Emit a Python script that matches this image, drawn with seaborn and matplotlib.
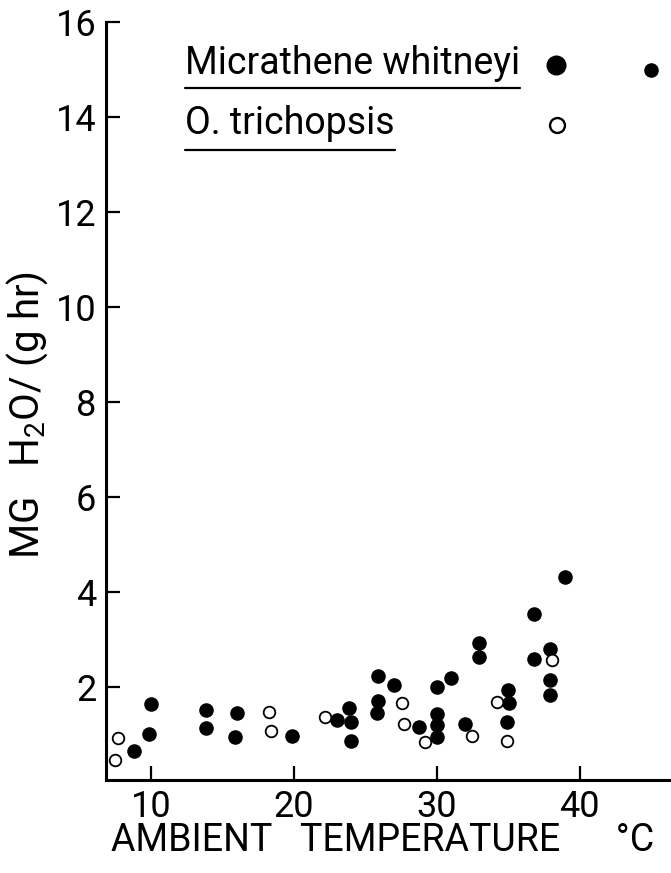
import numpy as np
import pandas as pd
import matplotlib
matplotlib.use("Agg")
import matplotlib.pyplot as plt
import seaborn as sns

# Micrathene whitneyi (filled circles)
mw_temp = [8.8, 10.0, 9.9, 13.9, 13.9, 16.0, 15.9, 19.9, 23.0, 23.9, 24.0, 24.0,
           25.9, 25.9, 25.8, 27.0, 28.8, 30.0, 30.0, 30.0, 30.0, 31.0, 32.0,
           33.0, 33.0, 35.0, 35.1, 34.9, 36.8, 36.8, 37.9, 37.9, 37.9, 39.0, 45.0]
mw_rate = [0.65, 1.65, 1.01, 1.51, 1.13, 1.45, 0.94, 0.97, 1.30, 1.56, 1.26, 0.87,
           2.24, 1.70, 1.45, 2.04, 1.16, 2.00, 1.44, 1.20, 0.95, 2.19, 1.22,
           2.92, 2.63, 1.93, 1.66, 1.27, 3.54, 2.59, 2.79, 2.15, 1.83, 4.32, 14.98]

# O. trichopsis (open circles)
ot_temp = [7.5, 7.7, 18.3, 18.4, 22.2, 27.6, 27.7, 29.2, 32.5, 34.2, 34.9, 38.1]
ot_rate = [0.46, 0.93, 1.48, 1.08, 1.37, 1.66, 1.22, 0.84, 0.96, 1.68, 0.87, 2.57]

x_ticks = [10, 20, 30, 40]
y_ticks = [2, 4, 6, 8, 10, 12, 14, 16]

mw = pd.DataFrame({"temp": mw_temp, "rate": mw_rate})
ot = pd.DataFrame({"temp": ot_temp, "rate": ot_rate})

sns.set_style("ticks")
plt.rcParams["font.family"] = ["Roboto", "DejaVu Sans"]
plt.rcParams["mathtext.default"] = "regular"
plt.rcParams["text.color"] = "black"
plt.rcParams["axes.labelcolor"] = "black"

fig = plt.figure(figsize=(6.71, 8.73), dpi=100)
ax = fig.add_axes([0.158, 0.107, 0.842, 0.868])

sns.scatterplot(data=mw, x="temp", y="rate", ax=ax, color="black", s=110,
                edgecolor="black", linewidth=0, zorder=3)
sns.scatterplot(data=ot, x="temp", y="rate", ax=ax, color="white", s=70,
                edgecolor="black", linewidth=1.3, zorder=4)

ax.set_xlim(6.87, 46.4)
ax.set_ylim(0.05, 16)
ax.set_xticks(x_ticks)
ax.set_yticks(y_ticks)
ax.tick_params(direction="in", length=10, width=1.6, labelsize=26, colors="black", pad=7)
sns.despine(ax=ax)
for sp in ["left", "bottom"]:
    ax.spines[sp].set_linewidth(2.2)
    ax.spines[sp].set_color("black")

ax.set_xlabel("AMBIENT   TEMPERATURE      °C", fontsize=27, va="center")
ax.xaxis.set_label_coords(0.49, -0.08)
ax.set_ylabel("MG   H$_2$O/ (g hr)", fontsize=29, va="center")
ax.yaxis.set_label_coords(-0.14, 0.481)

# legend drawn by hand: underlined names with the marker to the right
ax.text(0.14, 0.945, "Micrathene whitneyi", transform=ax.transAxes,
        fontsize=27, va="center", ha="left")
ax.plot([0.14, 0.733], [0.913, 0.913], transform=ax.transAxes, color="black", lw=1.6)
ax.scatter([0.797], [0.943], transform=ax.transAxes, s=180, color="black",
           clip_on=False, zorder=5)
ax.text(0.14, 0.866, "O. trichopsis", transform=ax.transAxes,
        fontsize=27, va="center", ha="left")
ax.plot([0.14, 0.512], [0.831, 0.831], transform=ax.transAxes, color="black", lw=1.6)
ax.scatter([0.798], [0.864], transform=ax.transAxes, s=115, color="white",
           edgecolor="black", linewidth=1.7, clip_on=False, zorder=5)

fig.savefig("out.png", dpi=100)
